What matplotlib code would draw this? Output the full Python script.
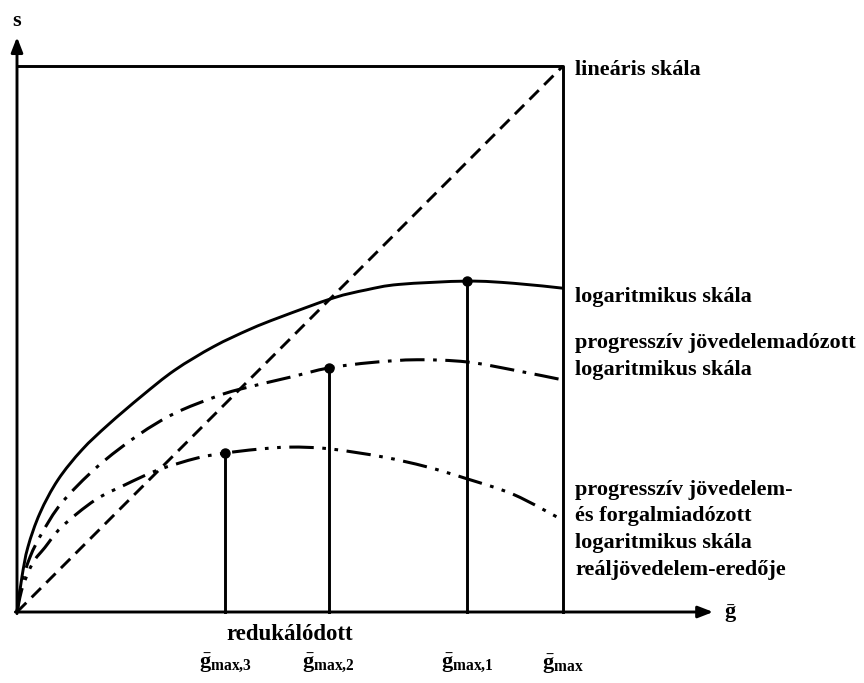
import matplotlib
matplotlib.use("Agg")
import matplotlib.pyplot as plt
from matplotlib.path import Path
from matplotlib.patches import PathPatch

plt.rcParams['mathtext.fontset'] = 'custom'
plt.rcParams['mathtext.rm'] = 'Liberation Serif:bold'
plt.rcParams['mathtext.bf'] = 'Liberation Serif:bold'
plt.rcParams['mathtext.it'] = 'Liberation Serif:bold'

# ---- data ----
lin_x = [0.0, 1.0]
lin_y = [0.0, 1.0]

log_x = [0, 0.009, 0.020, 0.042, 0.075, 0.119, 0.167, 0.229, 0.289, 0.36, 0.427, 0.482, 0.579, 0.64, 0.70, 0.824, 0.91, 1.0]
log_y = [0, 0.064, 0.119, 0.181, 0.242, 0.297, 0.343, 0.396, 0.443, 0.486, 0.518, 0.540, 0.575, 0.590, 0.600, 0.606, 0.602, 0.593]

prog_x = [0, 0.008, 0.024, 0.046, 0.082, 0.147, 0.222, 0.289, 0.363, 0.408, 0.5, 0.571, 0.65, 0.733, 0.824, 0.91, 1.0]
prog_y = [0, 0.050, 0.101, 0.145, 0.200, 0.266, 0.324, 0.364, 0.394, 0.408, 0.430, 0.447, 0.457, 0.462, 0.458, 0.443, 0.425]

real_x = [0, 0.01, 0.029, 0.051, 0.082, 0.143, 0.198, 0.258, 0.33, 0.381, 0.44, 0.5, 0.571, 0.67, 0.75, 0.824, 0.91, 1.0]
real_y = [0, 0.045, 0.090, 0.118, 0.156, 0.205, 0.233, 0.260, 0.282, 0.291, 0.298, 0.302, 0.299, 0.284, 0.266, 0.244, 0.215, 0.168]

gmax_x = [0.381, 0.571, 0.824, 1.0]
gmax_y = [0.291, 0.447, 0.606]
gmax_labels = [r"$\bar{\mathrm{g}}_{\mathrm{max{,}3}}$", r"$\bar{\mathrm{g}}_{\mathrm{max{,}2}}$",
               r"$\bar{\mathrm{g}}_{\mathrm{max{,}1}}$", r"$\bar{\mathrm{g}}_{\mathrm{max}}$"]

label_lines = [
    ["lineáris skála"],
    ["logaritmikus skála"],
    ["progresszív jövedelemadózott", "logaritmikus skála"],
    ["progresszív jövedelem-", "és forgalmiadózott", "logaritmikus skála", "reáljövedelem-eredője"],
]


def smooth_path(xs, ys):
    """Catmull-Rom curve through the read points, drawn as cubic Bezier segments."""
    pts = list(zip(xs, ys))
    verts = [pts[0]]
    codes = [Path.MOVETO]
    n = len(pts)
    for i in range(n - 1):
        p0 = pts[i - 1] if i > 0 else pts[i]
        p1 = pts[i]
        p2 = pts[i + 1]
        p3 = pts[i + 2] if i + 2 < n else pts[i + 1]
        c1 = (p1[0] + (p2[0] - p0[0]) / 6, p1[1] + (p2[1] - p0[1]) / 6)
        c2 = (p2[0] - (p3[0] - p1[0]) / 6, p2[1] - (p3[1] - p1[1]) / 6)
        verts += [c1, c2, p2]
        codes += [Path.CURVE4] * 3
    return Path(verts, codes)


# ---- figure ----
fig = plt.figure(figsize=(8.64, 6.83), dpi=100)
ax = fig.add_axes([0, 0, 1, 1])
ax.set_xlim(-17 / 546, (864 - 17) / 546)
ax.set_ylim(-71 / 546, 612 / 546)
ax.axis('off')

K = 'black'
FONT = dict(family='Liberation Serif', weight='bold', color=K)
LW = 2.1

# axes with arrows
arrow = dict(arrowstyle='-|>,head_length=0.9,head_width=0.35', lw=LW, color=K, shrinkA=0, shrinkB=0)
ax.annotate('', xy=(0, 1.053), xytext=(0, -0.003), arrowprops=arrow)
ax.annotate('', xy=(1.275, 0), xytext=(-0.003, 0), arrowprops=arrow)
ax.text(0, 1.082, 's', ha='center', va='center', fontsize=16, **FONT)
ax.text(1.305, 0.0, 'ḡ', ha='center', va='center', fontsize=16, **FONT)

# box
ax.plot([0, 1, 1], [1, 1, 0], color=K, lw=LW, solid_capstyle='projecting')

# curves
ax.plot(lin_x, lin_y, color=K, lw=LW, dashes=(4.5, 2.6))
ax.add_patch(PathPatch(smooth_path(log_x, log_y), fill=False, ec=K, lw=LW))
ax.add_patch(PathPatch(smooth_path(prog_x, prog_y), fill=False, ec=K, lw=LW + 0.1,
                       linestyle=(0, (8, 2.8, 1.2, 2.8))))
ax.add_patch(PathPatch(smooth_path(real_x, real_y), fill=False, ec=K, lw=LW + 0.1,
                       linestyle=(0, (8, 2.8, 1.2, 2.8, 1.2, 2.8))))

# verticals and maximum points
for gx, gy in zip(gmax_x[:3], gmax_y):
    ax.plot([gx, gx], [0, gy], color=K, lw=LW)
ax.plot(gmax_x[:3], gmax_y, 'o', color=K, ms=6.5)

# bottom labels
ax.text(0.5, -0.042, 'redukálódott', ha='center', va='center', fontsize=16.5, **FONT)
for gx, lab in zip(gmax_x, gmax_labels):
    ax.text(gx, -0.095, lab, ha='center', va='center', fontsize=16, color=K)

# right labels
line_h = 26.5 / 546
label_tops = [70, 297, 343, 490]
for lines, top in zip(label_lines, label_tops):
    for i, line in enumerate(lines):
        y = (612 - top) / 546 - i * line_h
        ax.text(1.022, y, line, ha='left', va='center', fontsize=16, **FONT)

fig.savefig('out.png', dpi=100)
